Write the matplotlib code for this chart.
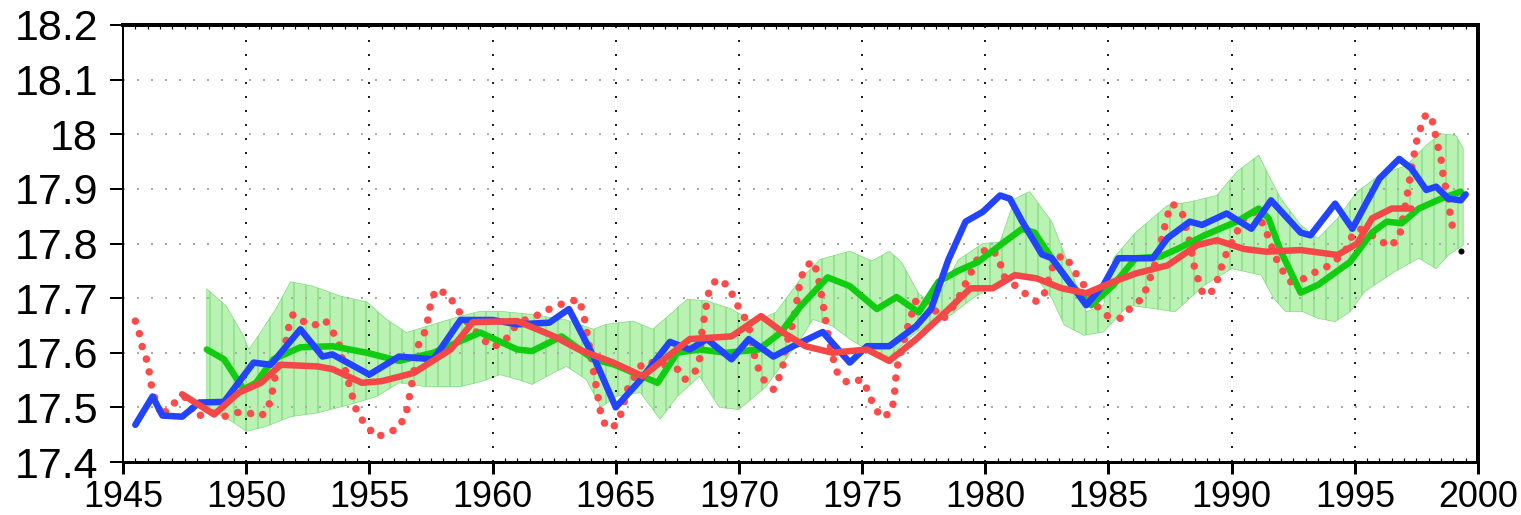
import numpy as np
import matplotlib
matplotlib.use("Agg")
import matplotlib.pyplot as plt
from matplotlib.ticker import MultipleLocator, FuncFormatter

plt.rcParams['font.family'] = ['Liberation Sans', 'DejaVu Sans']
plt.rcParams['hatch.linewidth'] = 1.0

# ensemble spread (upper / lower envelope)
band_hi_year = [1948.4, 1949.2, 1949.9, 1950.1, 1950.4, 1951.2, 1951.8, 1952.7, 1953.8, 1954.9,
                1955.7, 1956.5, 1957.6, 1958.7, 1959.5, 1960.3, 1961.6, 1963.0, 1964.1, 1964.6,
                1965.7, 1966.5, 1967.3, 1967.9, 1968.7, 1969.7, 1970.6, 1971.5, 1972.5, 1973.3,
                1974.5, 1975.4, 1976.1, 1976.6, 1977.3, 1977.9, 1978.5, 1978.9, 1979.9, 1980.6,
                1981.2, 1981.8, 1982.7, 1983.5, 1984.1, 1984.8, 1985.2, 1986.1, 1987.4, 1988.3,
                1989.4, 1990.2, 1991.1, 1991.5, 1992.0, 1992.8, 1993.5, 1994.3, 1995.1, 1996.0,
                1997.1, 1997.9, 1998.5, 1999.1, 1999.4]
band_hi = [17.717, 17.685, 17.630, 17.606, 17.625, 17.680, 17.730, 17.722, 17.704, 17.693,
           17.661, 17.637, 17.652, 17.667, 17.676, 17.676, 17.670, 17.660, 17.643, 17.652,
           17.658, 17.643, 17.674, 17.698, 17.695, 17.680, 17.656, 17.674, 17.735, 17.771,
           17.786, 17.768, 17.786, 17.766, 17.708, 17.690, 17.735, 17.770, 17.800, 17.803,
           17.882, 17.895, 17.840, 17.748, 17.675, 17.687, 17.773, 17.820, 17.870, 17.876,
           17.888, 17.931, 17.962, 17.925, 17.882, 17.834, 17.809, 17.846, 17.895, 17.925,
           17.943, 17.980, 18.001, 17.998, 17.974]
band_lo_year = [1948.4, 1949.5, 1950.0, 1950.8, 1951.8, 1952.9, 1954.2, 1955.3, 1956.2, 1957.3,
                1958.7, 1959.6, 1960.3, 1961.1, 1961.6, 1962.5, 1963.0, 1963.8, 1964.4, 1965.0,
                1966.0, 1966.8, 1967.5, 1968.4, 1969.2, 1970.0, 1971.1, 1971.8, 1972.5, 1973.0,
                1973.8, 1974.5, 1975.2, 1976.1, 1977.0, 1977.9, 1978.6, 1979.5, 1980.4, 1981.2,
                1982.0, 1982.7, 1983.2, 1984.0, 1984.8, 1985.8, 1986.8, 1987.7, 1988.9, 1990.0,
                1991.2, 1991.7, 1992.2, 1992.9, 1993.5, 1994.2, 1994.8, 1995.4, 1996.6, 1997.6,
                1998.3, 1998.8, 1999.4]
band_lo = [17.500, 17.472, 17.456, 17.465, 17.483, 17.490, 17.505, 17.520, 17.545, 17.538,
           17.538, 17.548, 17.560, 17.550, 17.542, 17.564, 17.575, 17.551, 17.500, 17.520,
           17.527, 17.478, 17.520, 17.557, 17.500, 17.496, 17.538, 17.582, 17.625, 17.661,
           17.649, 17.625, 17.606, 17.593, 17.630, 17.661, 17.669, 17.700, 17.724, 17.748,
           17.742, 17.700, 17.651, 17.632, 17.638, 17.687, 17.681, 17.675, 17.724, 17.754,
           17.742, 17.700, 17.675, 17.675, 17.663, 17.657, 17.675, 17.712, 17.748, 17.773,
           17.754, 17.779, 17.797]

# ensemble mean (green)
mean_year = [1948.4, 1949.1, 1949.9, 1950.4, 1951.1, 1952.2, 1953.5, 1954.9, 1956.2, 1957.6,
             1959.5, 1961.0, 1961.6, 1962.8, 1964.1, 1964.9, 1966.7, 1967.5, 1968.4, 1969.5,
             1970.8, 1971.7, 1972.5, 1973.6, 1974.5, 1975.6, 1976.4, 1977.3, 1978.1, 1978.9,
             1979.7, 1980.6, 1981.5, 1982.0, 1982.7, 1983.5, 1984.3, 1985.2, 1986.1, 1987.1,
             1987.8, 1988.9, 1990.2, 1991.1, 1991.5, 1992.0, 1992.8, 1993.5, 1994.8, 1995.7,
             1996.3, 1996.9, 1997.6, 1998.5, 1999.3]
mean_val = [17.606, 17.588, 17.533, 17.545, 17.588, 17.610, 17.612, 17.600, 17.585, 17.600,
            17.637, 17.606, 17.603, 17.630, 17.588, 17.579, 17.545, 17.600, 17.606, 17.600,
            17.606, 17.637, 17.685, 17.738, 17.722, 17.680, 17.702, 17.674, 17.730, 17.750,
            17.766, 17.797, 17.827, 17.820, 17.773, 17.724, 17.687, 17.724, 17.773, 17.776,
            17.790, 17.815, 17.840, 17.864, 17.846, 17.785, 17.710, 17.724, 17.766, 17.820,
            17.840, 17.837, 17.864, 17.882, 17.895]

# observed, smoothed (blue)
obs_year = [1945.5, 1946.2, 1946.6, 1947.4, 1948.1, 1949.1, 1950.3, 1951.0, 1952.2, 1953.1,
            1953.5, 1955.0, 1956.2, 1957.6, 1958.7, 1960.0, 1961.0, 1962.3, 1963.1, 1964.1,
            1965.0, 1966.0, 1967.2, 1968.0, 1968.7, 1969.7, 1970.4, 1971.4, 1972.2, 1973.4,
            1974.5, 1975.2, 1976.1, 1977.2, 1977.8, 1978.5, 1979.2, 1979.9, 1980.6, 1981.0,
            1981.5, 1982.3, 1982.7, 1983.4, 1984.1, 1984.8, 1985.4, 1986.8, 1987.4, 1988.3,
            1988.8, 1989.8, 1990.8, 1991.6, 1992.8, 1993.2, 1994.2, 1994.9, 1996.0, 1996.8,
            1997.3, 1997.9, 1998.3, 1998.8, 1999.3, 1999.5]
obs_val = [17.468, 17.520, 17.485, 17.483, 17.509, 17.510, 17.582, 17.578, 17.643, 17.593,
           17.597, 17.560, 17.593, 17.588, 17.660, 17.660, 17.652, 17.655, 17.680, 17.593,
           17.500, 17.550, 17.620, 17.606, 17.625, 17.588, 17.625, 17.593, 17.612, 17.638,
           17.582, 17.612, 17.612, 17.649, 17.680, 17.770, 17.840, 17.858, 17.888, 17.882,
           17.840, 17.780, 17.773, 17.730, 17.687, 17.724, 17.773, 17.773, 17.810, 17.840,
           17.834, 17.855, 17.827, 17.879, 17.820, 17.815, 17.873, 17.827, 17.919, 17.955,
           17.937, 17.898, 17.904, 17.882, 17.879, 17.890]

# reconstruction, smoothed (red solid)
rec_year = [1947.4, 1948.7, 1949.7, 1950.6, 1951.4, 1952.9, 1953.5, 1954.7, 1955.5, 1956.8,
            1958.3, 1959.2, 1961.0, 1962.5, 1963.5, 1964.9, 1966.1, 1967.1, 1968.0, 1969.7,
            1970.9, 1971.8, 1972.7, 1973.8, 1975.2, 1976.1, 1977.2, 1978.4, 1979.4, 1980.3,
            1981.2, 1982.1, 1983.1, 1984.1, 1985.2, 1986.1, 1987.4, 1988.6, 1989.4, 1990.5,
            1991.4, 1992.8, 1994.3, 1995.1, 1995.7, 1996.5, 1997.3]
rec_val = [17.524, 17.487, 17.527, 17.545, 17.578, 17.575, 17.570, 17.545, 17.548, 17.563,
           17.606, 17.656, 17.658, 17.630, 17.606, 17.582, 17.557, 17.593, 17.625, 17.630,
           17.667, 17.637, 17.612, 17.600, 17.606, 17.585, 17.625, 17.675, 17.718, 17.718,
           17.742, 17.736, 17.718, 17.709, 17.730, 17.745, 17.760, 17.797, 17.806, 17.790,
           17.785, 17.788, 17.779, 17.800, 17.846, 17.864, 17.864]

# reconstruction, unsmoothed (red dots)
raw_year = [1945.5, 1945.7, 1945.8, 1946.0, 1946.1, 1946.2, 1946.6, 1946.9, 1947.2, 1947.5,
            1948.0, 1948.5, 1949.1, 1949.5, 1950.0, 1950.5, 1950.8, 1951.0, 1951.2, 1951.5,
            1951.7, 1951.9, 1952.2, 1952.7, 1953.2, 1953.5, 1953.8, 1953.9, 1954.2, 1954.5,
            1954.9, 1955.3, 1955.8, 1956.2, 1956.5, 1956.7, 1957.0, 1957.3, 1957.5, 1957.7,
            1958.2, 1958.5, 1958.8, 1959.6, 1960.0, 1960.5, 1960.8, 1961.2, 1962.0, 1962.5,
            1963.1, 1963.5, 1963.7, 1963.9, 1964.1, 1964.3, 1964.4, 1964.6, 1964.9, 1965.2,
            1965.5, 1966.1, 1966.7, 1967.5, 1967.8, 1968.2, 1968.4, 1968.5, 1968.7, 1968.8,
            1969.1, 1969.6, 1969.8, 1970.2, 1970.4, 1970.6, 1970.8, 1971.0, 1971.4, 1971.6,
            1971.8, 1971.9, 1972.2, 1972.4, 1972.5, 1972.7, 1973.0, 1973.2, 1973.4, 1973.6,
            1973.8, 1974.0, 1974.4, 1975.0, 1975.2, 1975.5, 1975.8, 1976.2, 1976.3, 1976.4,
            1976.8, 1977.2, 1977.5, 1977.9, 1978.3, 1978.8, 1979.3, 1979.6, 1979.8, 1980.3,
            1980.6, 1980.7, 1981.1, 1981.6, 1982.1, 1982.4, 1982.7, 1983.1, 1983.4, 1983.8,
            1984.2, 1984.6, 1985.0, 1985.5, 1986.0, 1986.4, 1986.6, 1986.8, 1987.1, 1987.4,
            1987.6, 1988.0, 1988.3, 1988.5, 1988.8, 1989.1, 1989.4, 1989.7, 1990.2, 1990.5,
            1990.9, 1991.3, 1991.5, 1991.8, 1992.1, 1992.4, 1992.8, 1993.2, 1993.5, 1994.0,
            1994.6, 1994.9, 1995.2, 1995.9, 1996.4, 1996.8, 1997.1, 1997.3, 1997.5, 1997.7,
            1997.9, 1998.2, 1998.3, 1998.5, 1998.6, 1998.8, 1998.9, 1999.1]
raw_val = [17.658, 17.630, 17.606, 17.582, 17.555, 17.527, 17.483, 17.505, 17.510, 17.520,
           17.483, 17.492, 17.483, 17.490, 17.492, 17.483, 17.490, 17.514, 17.563, 17.593,
           17.643, 17.670, 17.660, 17.649, 17.660, 17.640, 17.612, 17.588, 17.538, 17.490,
           17.465, 17.446, 17.454, 17.463, 17.490, 17.538, 17.615, 17.643, 17.693, 17.716,
           17.707, 17.685, 17.665, 17.625, 17.610, 17.621, 17.643, 17.658, 17.672, 17.685,
           17.693, 17.698, 17.670, 17.620, 17.566, 17.514, 17.487, 17.465, 17.463, 17.487,
           17.536, 17.582, 17.582, 17.570, 17.551, 17.563, 17.588, 17.638, 17.693, 17.716,
           17.735, 17.722, 17.698, 17.667, 17.649, 17.600, 17.570, 17.551, 17.533, 17.551,
           17.579, 17.612, 17.656, 17.707, 17.735, 17.757, 17.768, 17.744, 17.693, 17.637,
           17.593, 17.563, 17.545, 17.551, 17.533, 17.500, 17.481, 17.492, 17.518, 17.570,
           17.640, 17.698, 17.698, 17.680, 17.662, 17.690, 17.736, 17.763, 17.785, 17.790,
           17.766, 17.742, 17.727, 17.709, 17.693, 17.709, 17.754, 17.779, 17.766, 17.736,
           17.712, 17.681, 17.666, 17.663, 17.687, 17.700, 17.727, 17.748, 17.797, 17.852,
           17.873, 17.855, 17.803, 17.754, 17.712, 17.705, 17.730, 17.773, 17.820, 17.846,
           17.858, 17.834, 17.810, 17.773, 17.748, 17.730, 17.733, 17.742, 17.751, 17.760,
           17.785, 17.815, 17.827, 17.810, 17.794, 17.810, 17.882, 17.937, 17.986, 18.016,
           18.038, 18.020, 17.990, 17.955, 17.919, 17.882, 17.840, 17.815]

# single final value
last_year = [1999.3]
last_val = [17.786]

fig = plt.figure(figsize=(1521 / 72, 515 / 72), dpi=72)
ax = fig.add_axes([123 / 1521, 53 / 515, 1355 / 1521, 437 / 515])

ax.fill(np.concatenate([band_hi_year, band_lo_year[::-1]]),
        np.concatenate([band_hi, band_lo[::-1]]),
        facecolor='#baf2b4', edgecolor='#72d872', hatch='|', linewidth=0.6, zorder=1)

ax.plot(raw_year, raw_val, color='#ff4a4a', lw=7.5, linestyle=(0, (0.01, 1.75)),
        dash_capstyle='round', zorder=2)
ax.plot(mean_year, mean_val, color='#11cc11', lw=6.5, solid_capstyle='round',
        solid_joinstyle='round', zorder=3)
ax.plot(obs_year, obs_val, color='#2244ff', lw=6.5, solid_capstyle='round',
        solid_joinstyle='round', zorder=4)
ax.plot(rec_year, rec_val, color='#f44848', lw=6.5, solid_capstyle='round',
        solid_joinstyle='round', zorder=5)
ax.plot(last_year, last_val, 'o', color='black', ms=5, zorder=6)

ax.set_xlim(1945, 2000)
ax.set_ylim(17.4, 18.2)
ax.xaxis.set_major_locator(MultipleLocator(5))
ax.xaxis.set_minor_locator(MultipleLocator(0.5))
ax.set_yticks(np.arange(17.4, 18.21, 0.1))
ax.yaxis.set_major_formatter(FuncFormatter(lambda v, _: f"{v:.1f}".rstrip('0').rstrip('.')))

ax.set_axisbelow('line')
ax.xaxis.grid(True, color='#222222', linestyle=(0, (1, 6)), linewidth=2)
ax.yaxis.grid(True, color='#aaaaaa', linestyle=(0, (1, 6)), linewidth=2)

ax.tick_params(axis='y', which='major', direction='out', length=13, width=2,
               labelsize=43, pad=12, right=False)
ax.tick_params(axis='x', which='major', direction='out', length=12, width=3,
               labelsize=36, pad=6, top=False)
ax.tick_params(axis='x', which='minor', direction='in', length=4, width=1.2,
               top=True, bottom=True)

ax.spines['left'].set_linewidth(2)
ax.spines['bottom'].set_linewidth(3)
ax.spines['top'].set_linewidth(4)
ax.spines['right'].set_linewidth(4)

fig.savefig('out.png', dpi=72)
